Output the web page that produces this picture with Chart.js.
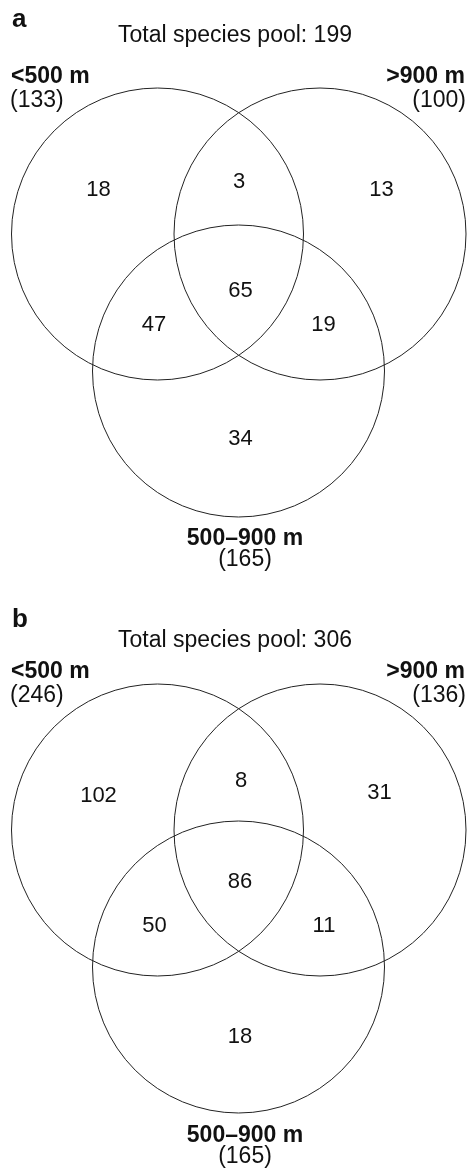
<!DOCTYPE html>
<html>
<head>
<meta charset="utf-8">
<script src="https://cdn.jsdelivr.net/npm/chart.js@4"></script>
<style>
  html, body { margin: 0; padding: 0; background: #fff; }
  .wrap { position: relative; width: 469px; height: 1170px; }
</style>
</head>
<body>
<div class="wrap"><canvas id="venn"></canvas></div>
<script>
// set names and panel data
const setLabels = ['<500 m', '>900 m', '500–900 m'];
const panelNames = ['a', 'b'];
const poolTotals = [199, 306];
const setTotalsA = [133, 100, 165];
const setTotalsB = [246, 136, 165];
// region order: <500 only, <500∩>900, >900 only, all three, <500∩mid, >900∩mid, mid only
const countsA = [18, 3, 13, 65, 47, 19, 34];
const countsB = [102, 8, 31, 86, 50, 11, 18];

// layout (page units, y downwards)
const panelTop = [0, 596];
const circleR = 146;
const circleX = [157.5, 320, 238.5];
const circleY = [234, 234, 371];
const regionXA = [98.5, 239, 381.5, 240.5, 154, 323.5, 240.5];
const regionYA = [196, 188, 196, 297, 331, 331, 445];
const regionXB = [98.5, 241, 379.5, 240, 154.5, 324, 240];
const regionYB = [206, 191, 203, 292, 336, 336, 447];

const FONT = '"Liberation Sans", Arial, Helvetica, sans-serif';
const INK = '#111';

const panels = [
  { totals: setTotalsA, counts: countsA, rx: regionXA, ry: regionYA, head: [27, 42, 83, 107, 545, 566] },
  { totals: setTotalsB, counts: countsB, rx: regionXB, ry: regionYB, head: [31, 51, 82, 106, 546, 567] },
];

const datasets = panelTop.map((top, p) => ({
  label: 'panel ' + panelNames[p],
  data: circleX.map((x, i) => ({ x, y: circleY[i] + top })),
  pointRadius: (ctx) => {
    const sx = ctx.chart.scales.x;
    return sx.getPixelForValue(circleR) - sx.getPixelForValue(0);
  },
  pointBackgroundColor: 'rgba(0,0,0,0)',
  pointBorderColor: '#222',
  pointBorderWidth: 1,
  showLine: false,
}));

const vennText = {
  id: 'vennText',
  afterDatasetsDraw(chart) {
    const { ctx, scales: { x, y } } = chart;
    const px = (v) => x.getPixelForValue(v);
    const py = (v) => y.getPixelForValue(v);
    const put = (text, tx, ty, align, font) => {
      ctx.font = font;
      ctx.textAlign = align;
      ctx.fillText(text, px(tx), py(ty));
    };

    ctx.save();
    ctx.fillStyle = INK;
    ctx.textBaseline = 'alphabetic';

    panels.forEach((pn, p) => {
      const top = panelTop[p];
      const h = pn.head;
      put(panelNames[p], 12, top + h[0], 'left', 'bold 26px ' + FONT);
      put('Total species pool: ' + poolTotals[p], 235, top + h[1], 'center', '23px ' + FONT);

      put(setLabels[0], 11, top + h[2], 'left', 'bold 23px ' + FONT);
      put('(' + pn.totals[0] + ')', 10, top + h[3], 'left', '23px ' + FONT);
      put(setLabels[1], 465, top + h[2], 'right', 'bold 23px ' + FONT);
      put('(' + pn.totals[1] + ')', 466, top + h[3], 'right', '23px ' + FONT);
      put(setLabels[2], 245, top + h[4], 'center', 'bold 23px ' + FONT);
      put('(' + pn.totals[2] + ')', 245, top + h[5], 'center', '23px ' + FONT);

      pn.counts.forEach((c, i) => {
        put(String(c), pn.rx[i], top + pn.ry[i], 'center', '22px ' + FONT);
      });
    });
    ctx.restore();
  },
};

new Chart(document.getElementById('venn'), {
  type: 'scatter',
  data: { datasets },
  options: {
    responsive: true,
    maintainAspectRatio: false,
    animation: false,
    events: [],
    layout: { padding: 0 },
    plugins: {
      legend: { display: false },
      tooltip: { enabled: false },
    },
    scales: {
      x: { type: 'linear', min: 0, max: 469, display: false },
      y: { type: 'linear', min: 0, max: 1170, reverse: true, display: false },
    },
  },
  plugins: [vennText],
});
</script>
</body>
</html>
